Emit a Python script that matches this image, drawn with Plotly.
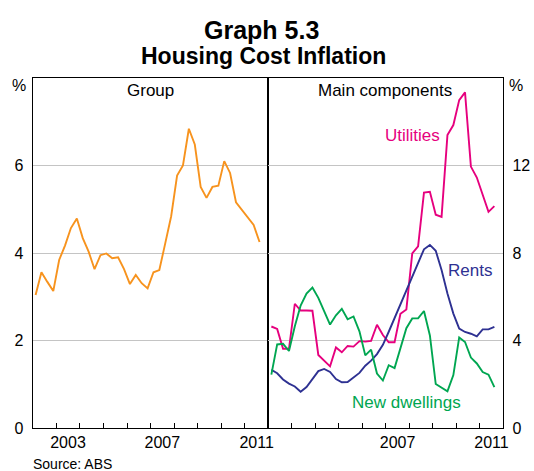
import pandas as pd
import plotly.graph_objects as go

# quarterly data, Mar 2002 - Sep 2011 (year-ended % change)
quarters = pd.period_range("2002Q1", "2011Q3", freq="Q")
dates = [p.start_time + (p.end_time - p.start_time) / 2 for p in quarters]

group = [3.04, 3.56, 3.34, 3.13, 3.84, 4.17, 4.57, 4.79, 4.34, 4.03,
         3.63, 3.95, 3.99, 3.88, 3.90, 3.63, 3.29, 3.50, 3.31, 3.19,
         3.56, 3.61, 4.22, 4.84, 5.77, 6.00, 6.84, 6.48, 5.51, 5.26,
         5.51, 5.54, 6.10, 5.83, 5.16, 4.99, 4.81, 4.64, 4.25]

utilities = [4.64, 4.53, 3.62, 3.62, 5.68, 5.37, 5.37, 5.36, 3.34, 3.08,
             2.82, 3.68, 3.46, 3.75, 3.72, 3.97, 3.95, 3.98, 4.72, 4.25,
             3.92, 3.92, 5.22, 5.42, 7.98, 8.30, 10.76, 10.80, 9.75, 9.65,
             13.39, 13.85, 14.99, 15.34, 11.95, 11.45, 10.64, 9.88, 10.14]

rents = [2.66, 2.50, 2.22, 2.03, 1.90, 1.66, 1.87, 2.25, 2.60, 2.70,
         2.56, 2.24, 2.09, 2.10, 2.30, 2.52, 2.85, 3.08, 3.38, 3.80,
         4.40, 5.02, 5.66, 6.33, 6.96, 7.60, 8.17, 8.37, 8.10, 7.22,
         6.15, 5.23, 4.54, 4.39, 4.31, 4.19, 4.51, 4.51, 4.62]

new_dwellings = [2.44, 3.82, 3.85, 3.52, 4.65, 5.60, 6.15, 6.42, 5.95, 5.36,
                 4.73, 5.15, 5.45, 4.97, 5.10, 4.42, 3.32, 3.58, 2.49, 2.17,
                 2.87, 2.74, 3.65, 4.56, 5.01, 5.01, 5.35, 4.23, 2.01, 1.86,
                 1.68, 2.42, 4.14, 3.93, 3.22, 2.95, 2.56, 2.44, 1.87]

left_ticks = [0, 2, 4, 6]
right_ticks = [0, 4, 8, 12]
left_years = ["2003", "2007", "2011"]
right_years = ["2007", "2011"]

ORANGE = "#F7931E"
PINK = "#E6007E"
BLUE = "#2E3192"
GREEN = "#00A651"
FONT = "Arial, Liberation Sans, sans-serif"

# target picture is 534x471; the capture squeezes the page height a little,
# so the figure is laid out a bit taller and positions are given as fractions
W, H_REF, H = 534, 471, 480


def fx(px):
    return px / W


def fy(py):
    return 1 - py / H_REF


fig = go.Figure()
fig.add_trace(go.Scatter(x=dates, y=group, mode="lines",
                         line=dict(color=ORANGE, width=1.9), xaxis="x", yaxis="y"))
fig.add_trace(go.Scatter(x=dates, y=utilities, mode="lines",
                         line=dict(color=PINK, width=1.9), xaxis="x2", yaxis="y2"))
fig.add_trace(go.Scatter(x=dates, y=rents, mode="lines",
                         line=dict(color=BLUE, width=1.9), xaxis="x2", yaxis="y2"))
fig.add_trace(go.Scatter(x=dates, y=new_dwellings, mode="lines",
                         line=dict(color=GREEN, width=1.9), xaxis="x2", yaxis="y2"))


def xaxis_cfg(domain, years, anchor):
    return dict(
        domain=domain, anchor=anchor, type="date",
        range=["2002-01-01", "2012-01-01"],
        tickmode="array",
        tickvals=[f"{y}-07-02" for y in years],
        ticktext=years,
        ticks="", showgrid=False, zeroline=False, ticklabelstandoff=0,
        minor=dict(tickmode="linear", tick0="2002-01-01", dtick="M12",
                   ticks="inside", ticklen=5, tickcolor="black", showgrid=False),
        showline=True, linecolor="black", linewidth=1, mirror=True,
        tickfont=dict(size=16, color="black"),
    )


def yaxis_cfg(domain, rng, ticks, side, anchor):
    return dict(
        domain=domain, anchor=anchor, range=rng,
        tickmode="array", tickvals=ticks, side=side,
        showgrid=True, gridcolor="#C4C4C4", gridwidth=1,
        zeroline=False, ticks="", ticklabelstandoff=5,
        showline=True, linecolor="black", linewidth=1, mirror=True,
        tickfont=dict(size=16, color="black"),
    )


ydom = [fy(428), fy(78)]

fig.update_layout(
    width=W, height=H, autosize=False,
    margin=dict(l=0, r=0, t=0, b=0),
    plot_bgcolor="white", paper_bgcolor="white",
    font=dict(family=FONT, color="black"),
    showlegend=False,
    xaxis=xaxis_cfg([fx(33), fx(271)], left_years, "y"),
    xaxis2=xaxis_cfg([fx(271), fx(508)], right_years, "y2"),
    yaxis=yaxis_cfg(ydom, [0, 8], left_ticks, "left", "x"),
    yaxis2=yaxis_cfg(ydom, [0, 16], right_ticks, "right", "x2"),
)

notes = [
    ("<b>Graph 5.3</b>", 264, 30, 25, "black", "center"),
    ("<b>Housing Cost Inflation</b>", 266, 56, 23, "black", "center"),
    ("%", 19, 86, 16, "black", "center"),
    ("%", 521, 86, 16, "black", "center"),
    ("Group", 152, 91, 17, "black", "center"),
    ("Main components", 389, 91, 17, "black", "center"),
    ("Utilities", 416, 136, 17, PINK, "center"),
    ("Rents", 474, 270, 17, BLUE, "center"),
    ("New dwellings", 410, 402, 17, GREEN, "center"),
    ("Source: ABS", 31, 464, 14, "black", "left"),
]
for text, x, y, size, color, anchor in notes:
    fig.add_annotation(text=text, x=fx(x), y=fy(y), xref="paper", yref="paper",
                       xanchor=anchor, yanchor="middle", showarrow=False,
                       font=dict(size=size, color=color, family=FONT))

fig.write_html("out.html", config={"responsive": False, "displayModeBar": False},
               post_script="document.body.style.margin='0';")
